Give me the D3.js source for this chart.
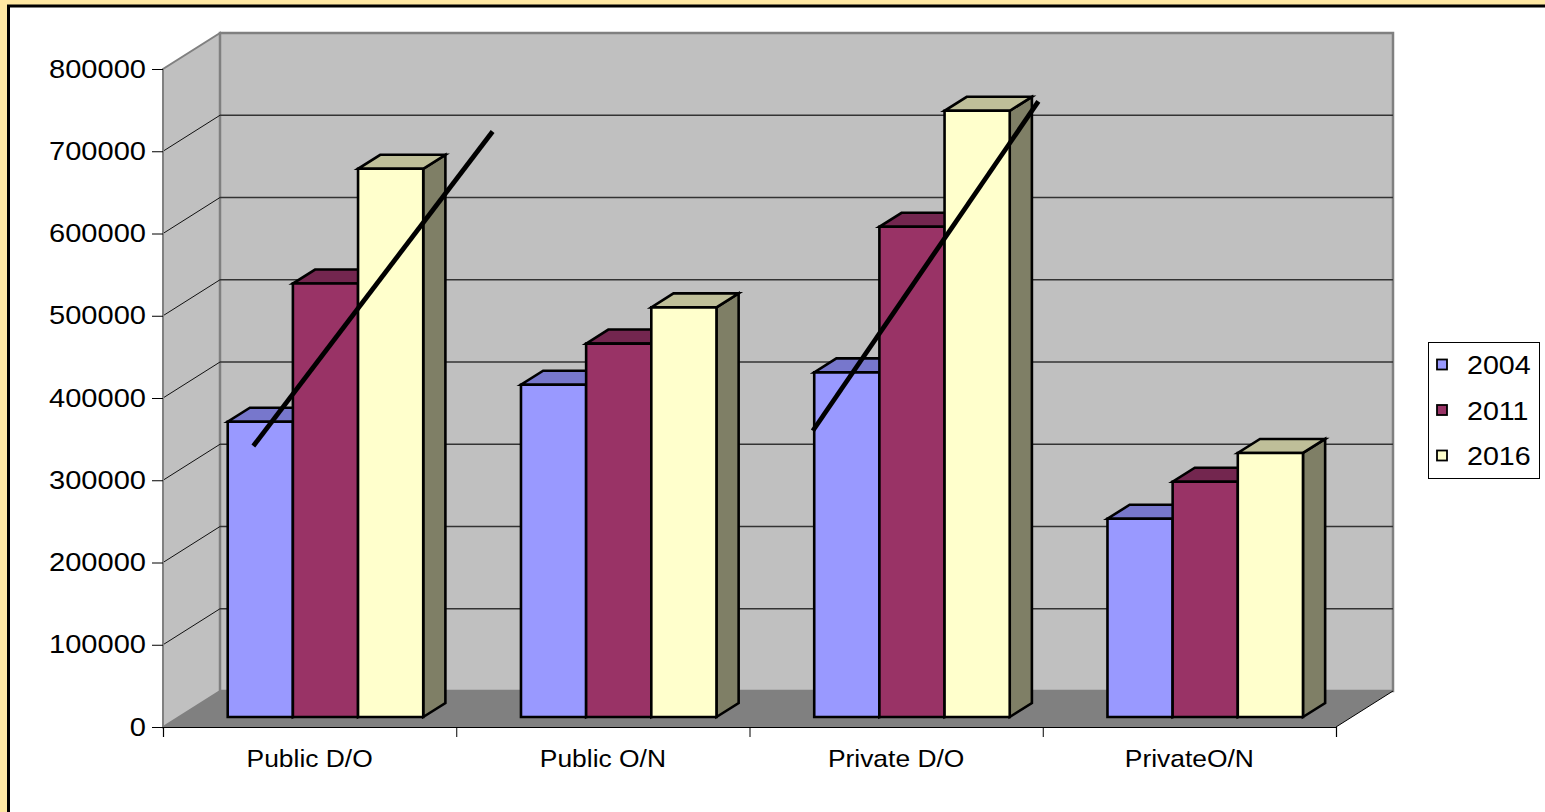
<!DOCTYPE html>
<html>
<head>
<meta charset="utf-8">
<script src="https://cdn.jsdelivr.net/npm/d3@7"></script>
<style>
  html, body { margin: 0; padding: 0; background: #FFE8A3; overflow: hidden; }
  text { font-family: "Liberation Sans", Arial, sans-serif; fill: #000; }
</style>
</head>
<body>
<div id="chart"></div>
<script>
const categories = ["Public D/O", "Public O/N", "Private D/O", "PrivateO/N"];
const years = ["2004", "2011", "2016"];
const values2004 = [359000, 404000, 419000, 241000];
const values2011 = [527000, 454000, 596000, 286000];
const values2016 = [666500, 498000, 737000, 321000];
const yTicks = [0, 100000, 200000, 300000, 400000, 500000, 600000, 700000, 800000];
// hand drawn trend lines, x in category units, y in values
const trendFrom = [[0.308, 341600], [2.216, 360200]];
const trendTo = [[1.124, 724100], [2.985, 760600]];

const series = [values2004, values2011, values2016];
const frontColors = ["#9999FF", "#993366", "#FFFFCC"];
const topColors = ["#7777CC", "#73264F", "#BFBF99"];
const sideColors = ["#7373BF", "#73264F", "#7F7F66"];

function Chart() {
    const width = 1545, height = 812;
    const depthX = 57, depthY = 36;
    const barFront = 0.278, barBack = 0.667;

    const xScale = d3.scaleLinear().domain([0, categories.length]).range([163, 1336]);
    const yScale = d3.scaleLinear().domain([0, 800000]).range([727, 69]);

    const project = (cx, v, d) => [xScale(cx) + d * depthX, yScale(v) - d * depthY];
    const poly = pts => pts.map(p => p.join(",")).join(" ");

    const svg = d3.select("#chart").append("svg")
        .attr("width", width)
        .attr("height", height);

    // frame
    svg.append("rect")
        .attr("x", 8.5).attr("y", 6)
        .attr("width", width + 20).attr("height", height + 20)
        .attr("fill", "white")
        .attr("stroke", "black")
        .attr("stroke-width", 3);

    // side wall
    svg.append("polygon")
        .attr("points", poly([project(0, 0, 0), project(0, 800000, 0), project(0, 800000, 1), project(0, 0, 1)]))
        .attr("fill", "#C0C0C0")
        .attr("stroke", "#808080")
        .attr("stroke-width", 2);

    // back wall
    svg.append("polygon")
        .attr("points", poly([project(0, 0, 1), project(0, 800000, 1), project(4, 800000, 1), project(4, 0, 1)]))
        .attr("fill", "#C0C0C0")
        .attr("stroke", "#808080")
        .attr("stroke-width", 2.5);

    // gridlines
    const grid = svg.append("g");
    grid.selectAll("line.back")
        .data(yTicks.slice(1, -1))
        .join("line")
        .attr("class", "back")
        .attr("x1", d => project(0, d, 1)[0])
        .attr("x2", d => project(4, d, 1)[0])
        .attr("y1", d => project(0, d, 1)[1])
        .attr("y2", d => project(4, d, 1)[1])
        .attr("stroke", "#333")
        .attr("stroke-width", 1.3);
    grid.selectAll("line.side")
        .data(yTicks.slice(1, -1))
        .join("line")
        .attr("class", "side")
        .attr("x1", d => project(0, d, 0)[0])
        .attr("x2", d => project(0, d, 1)[0])
        .attr("y1", d => project(0, d, 0)[1])
        .attr("y2", d => project(0, d, 1)[1])
        .attr("stroke", "#111")
        .attr("stroke-width", 1);

    // floor
    svg.append("polygon")
        .attr("points", poly([project(0, 0, 0), project(0, 0, 1), project(4, 0, 1), project(4, 0, 0)]))
        .attr("fill", "#808080");
    svg.append("line")
        .attr("x1", project(4, 0, 0)[0]).attr("y1", project(4, 0, 0)[1])
        .attr("x2", project(4, 0, 1)[0]).attr("y2", project(4, 0, 1)[1])
        .attr("stroke", "black").attr("stroke-width", 1);

    // axes
    svg.append("line")
        .attr("x1", xScale(0)).attr("x2", xScale(0))
        .attr("y1", yScale(800000)).attr("y2", yScale(0))
        .attr("stroke", "#808080").attr("stroke-width", 2);
    svg.append("g")
        .attr("transform", `translate(${xScale(0)},0)`)
        .call(d3.axisLeft(yScale).tickValues(yTicks).tickSize(11).tickFormat(d3.format("d")).tickSizeOuter(0))
        .call(g => g.select(".domain").remove())
        .call(g => g.selectAll("line").attr("stroke", "black"))
        .call(g => g.selectAll("text")
            .attr("font-size", 25.5)
            .attr("font-family", "Liberation Sans, Arial, sans-serif")
            .attr("x", null).attr("dy", null)
            .attr("transform", "translate(-17,8) scale(1.14,1)"));

    svg.append("g")
        .attr("transform", `translate(0,${yScale(0)})`)
        .call(d3.axisBottom(xScale).tickValues(d3.range(0, categories.length + 1)).tickSize(10).tickFormat(""))
        .call(g => g.select(".domain").attr("stroke", "black").attr("stroke-width", 1.2))
        .call(g => g.selectAll("line").attr("stroke", "black"));

    svg.append("g")
        .selectAll("text")
        .data(categories)
        .join("text")
        .attr("text-anchor", "middle")
        .attr("font-size", 24)
        .attr("transform", (d, i) => `translate(${xScale(i + 0.5)},767) scale(1.1,1)`)
        .text(d => d);

    // bars
    const barW = 1 / 4.5;
    const bars = [];
    categories.forEach((c, i) => {
        series.forEach((vals, k) => {
            const x0 = i + (0.75 + k) * barW;
            bars.push({ x0: x0, x1: x0 + barW, v: vals[i], k: k });
        });
    });

    const barG = svg.append("g")
        .selectAll("g")
        .data(bars)
        .join("g");

    barG.append("polygon")
        .attr("points", d => poly([project(d.x1, 0, barFront), project(d.x1, 0, barBack), project(d.x1, d.v, barBack), project(d.x1, d.v, barFront)]))
        .attr("fill", d => sideColors[d.k]);
    barG.append("polygon")
        .attr("points", d => poly([project(d.x0, d.v, barFront), project(d.x1, d.v, barFront), project(d.x1, d.v, barBack), project(d.x0, d.v, barBack)]))
        .attr("fill", d => topColors[d.k]);
    barG.append("polygon")
        .attr("points", d => poly([project(d.x0, 0, barFront), project(d.x1, 0, barFront), project(d.x1, d.v, barFront), project(d.x0, d.v, barFront)]))
        .attr("fill", d => frontColors[d.k]);
    barG.selectAll("polygon")
        .attr("stroke", "black")
        .attr("stroke-width", 2.6)
        .attr("stroke-linejoin", "miter");

    // trend lines
    svg.append("g")
        .selectAll("line")
        .data(trendFrom.map((f, i) => ({ from: f, to: trendTo[i] })))
        .join("line")
        .attr("x1", d => xScale(d.from[0]))
        .attr("y1", d => yScale(d.from[1]))
        .attr("x2", d => xScale(d.to[0]))
        .attr("y2", d => yScale(d.to[1]))
        .attr("stroke", "black")
        .attr("stroke-width", 4.8);

    // legend
    const legend = svg.append("g");
    legend.append("rect")
        .attr("x", 1428.5).attr("y", 342.5)
        .attr("width", 111).attr("height", 136)
        .attr("fill", "white")
        .attr("stroke", "black")
        .attr("stroke-width", 1);
    const items = legend.selectAll("g")
        .data(years)
        .join("g")
        .attr("transform", (d, i) => `translate(1437,${364.5 + i * 45.5})`);
    items.append("rect")
        .attr("x", 0).attr("y", -5)
        .attr("width", 10).attr("height", 10)
        .attr("fill", (d, i) => frontColors[i])
        .attr("stroke", "black")
        .attr("stroke-width", 1.8);
    items.append("text")
        .attr("font-size", 26.5)
        .attr("transform", "translate(30,9.5) scale(1.08,1)")
        .text(d => d);

    return svg.node();
}

Chart();
</script>
</body>
</html>
